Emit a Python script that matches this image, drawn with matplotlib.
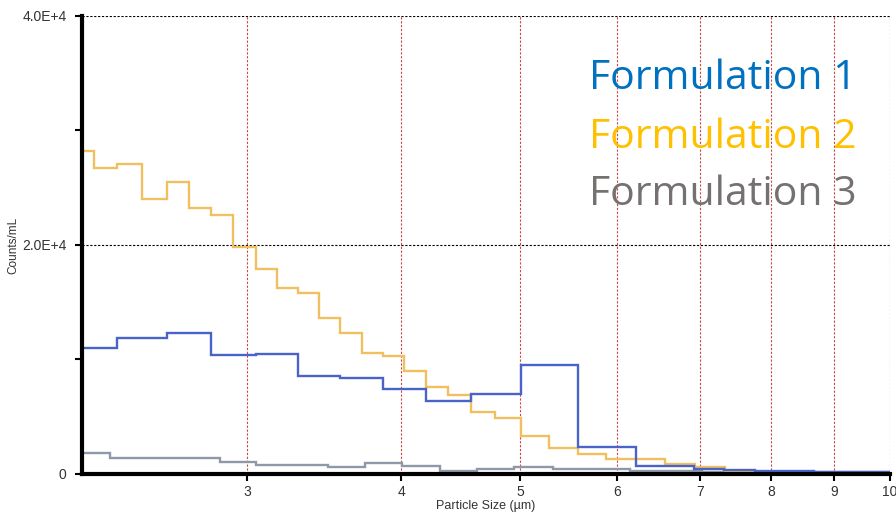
import numpy as np
import matplotlib
matplotlib.use("Agg")
import matplotlib.pyplot as plt
from matplotlib.ticker import FixedLocator, NullFormatter, NullLocator

plt.rcParams["font.family"] = ["Liberation Sans", "DejaVu Sans"]

# bin edges (um) and counts/mL
edges_f1 = [2.20, 2.35, 2.58, 2.80, 3.05, 3.30, 3.57, 3.87, 4.19, 4.56, 5.01,
            5.57, 6.21, 6.92, 7.33, 7.77, 8.68, 10.0]
counts_f1 = [11000, 11880, 12310, 10390, 10480, 8520, 8380, 7420, 6380, 6990,
             9560, 2400, 700, 440, 350, 260, 170]

edges_f2 = [2.20, 2.25, 2.35, 2.46, 2.58, 2.69, 2.80, 2.92, 3.05, 3.17, 3.30,
            3.43, 3.57, 3.72, 3.87, 4.02, 4.19, 4.37, 4.56, 4.77, 5.01, 5.28,
            5.57, 5.87, 6.56, 6.94, 7.34, 7.74, 10.0]
counts_f2 = [28200, 26730, 27080, 24020, 25500, 23230, 22620, 19830, 17900,
             16250, 15810, 13620, 12320, 10570, 10310, 9000, 7600, 6900, 5420,
             4890, 3320, 2270, 1750, 1310, 870, 610, 200, 30]

edges_f3 = [2.20, 2.32, 2.85, 3.05, 3.49, 3.74, 4.01, 4.30, 4.61, 4.94, 5.32,
            6.14, 7.03, 10.0]
counts_f3 = [1830, 1400, 1050, 790, 610, 960, 700, 260, 440, 610, 440, 260, 170]

labels = ["Formulation 1", "Formulation 2", "Formulation 3"]
x_ticks = [3, 4, 5, 6, 7, 8, 9, 10]

fig = plt.figure(figsize=(8.96, 5.16), dpi=100)
ax = fig.add_axes([0.0915, 0.0814, 0.9018, 0.8876])

ax.stairs(counts_f3, edges_f3, color="#8e99a8", lw=1.7, zorder=3)
ax.stairs(counts_f2, edges_f2, color="#f0c060", lw=1.7, zorder=4)
ax.stairs(counts_f1, edges_f1, color="#4a63c8", lw=1.7, zorder=5)

ax.set_xscale("log")
ax.set_xlim(2.2, 10.0)
ax.set_ylim(0, 40000)

ax.xaxis.set_major_locator(FixedLocator(x_ticks))
ax.xaxis.set_minor_locator(NullLocator())
ax.set_xticklabels([str(t) for t in x_ticks])
ax.set_yticks([0, 20000, 40000])
ax.set_yticklabels(["0", "2.0E+4", "4.0E+4"])
ax.yaxis.set_minor_locator(FixedLocator([10000, 30000]))
ax.yaxis.set_minor_formatter(NullFormatter())

ax.tick_params(axis="both", labelsize=10, labelcolor="#333333",
               length=5, width=1.5, direction="out", pad=3)
ax.tick_params(axis="y", pad=6)
ax.tick_params(axis="y", which="minor", length=5, width=1.5)

for v in x_ticks:
    ax.axvline(v, color="#c84848", lw=0.8, ls=(0, (2, 1.5)), zorder=1)
for v in [20000, 40000]:
    ax.axhline(v, color="black", lw=0.8, ls=(0, (2, 1.5)), zorder=1)

for s in ["top", "right"]:
    ax.spines[s].set_visible(False)
for s in ["left", "bottom"]:
    ax.spines[s].set_linewidth(3)
    ax.spines[s].set_zorder(6)

ax.set_xlabel("Particle Size (µm)", fontsize=9, color="#333333", labelpad=1)
ax.set_ylabel("Counts/mL", fontsize=8.5, color="#333333", labelpad=2)

colors = ["#0070c0", "#ffc000", "#767171"]
baselines = [0.8275, 0.7132, 0.6027]
for lab, c, yb in zip(labels, colors, baselines):
    fig.text(0.956, yb, lab, color=c, fontsize=29.5,
             family="Open Sans", ha="right", va="baseline")

fig.savefig("out.png", dpi=100)
